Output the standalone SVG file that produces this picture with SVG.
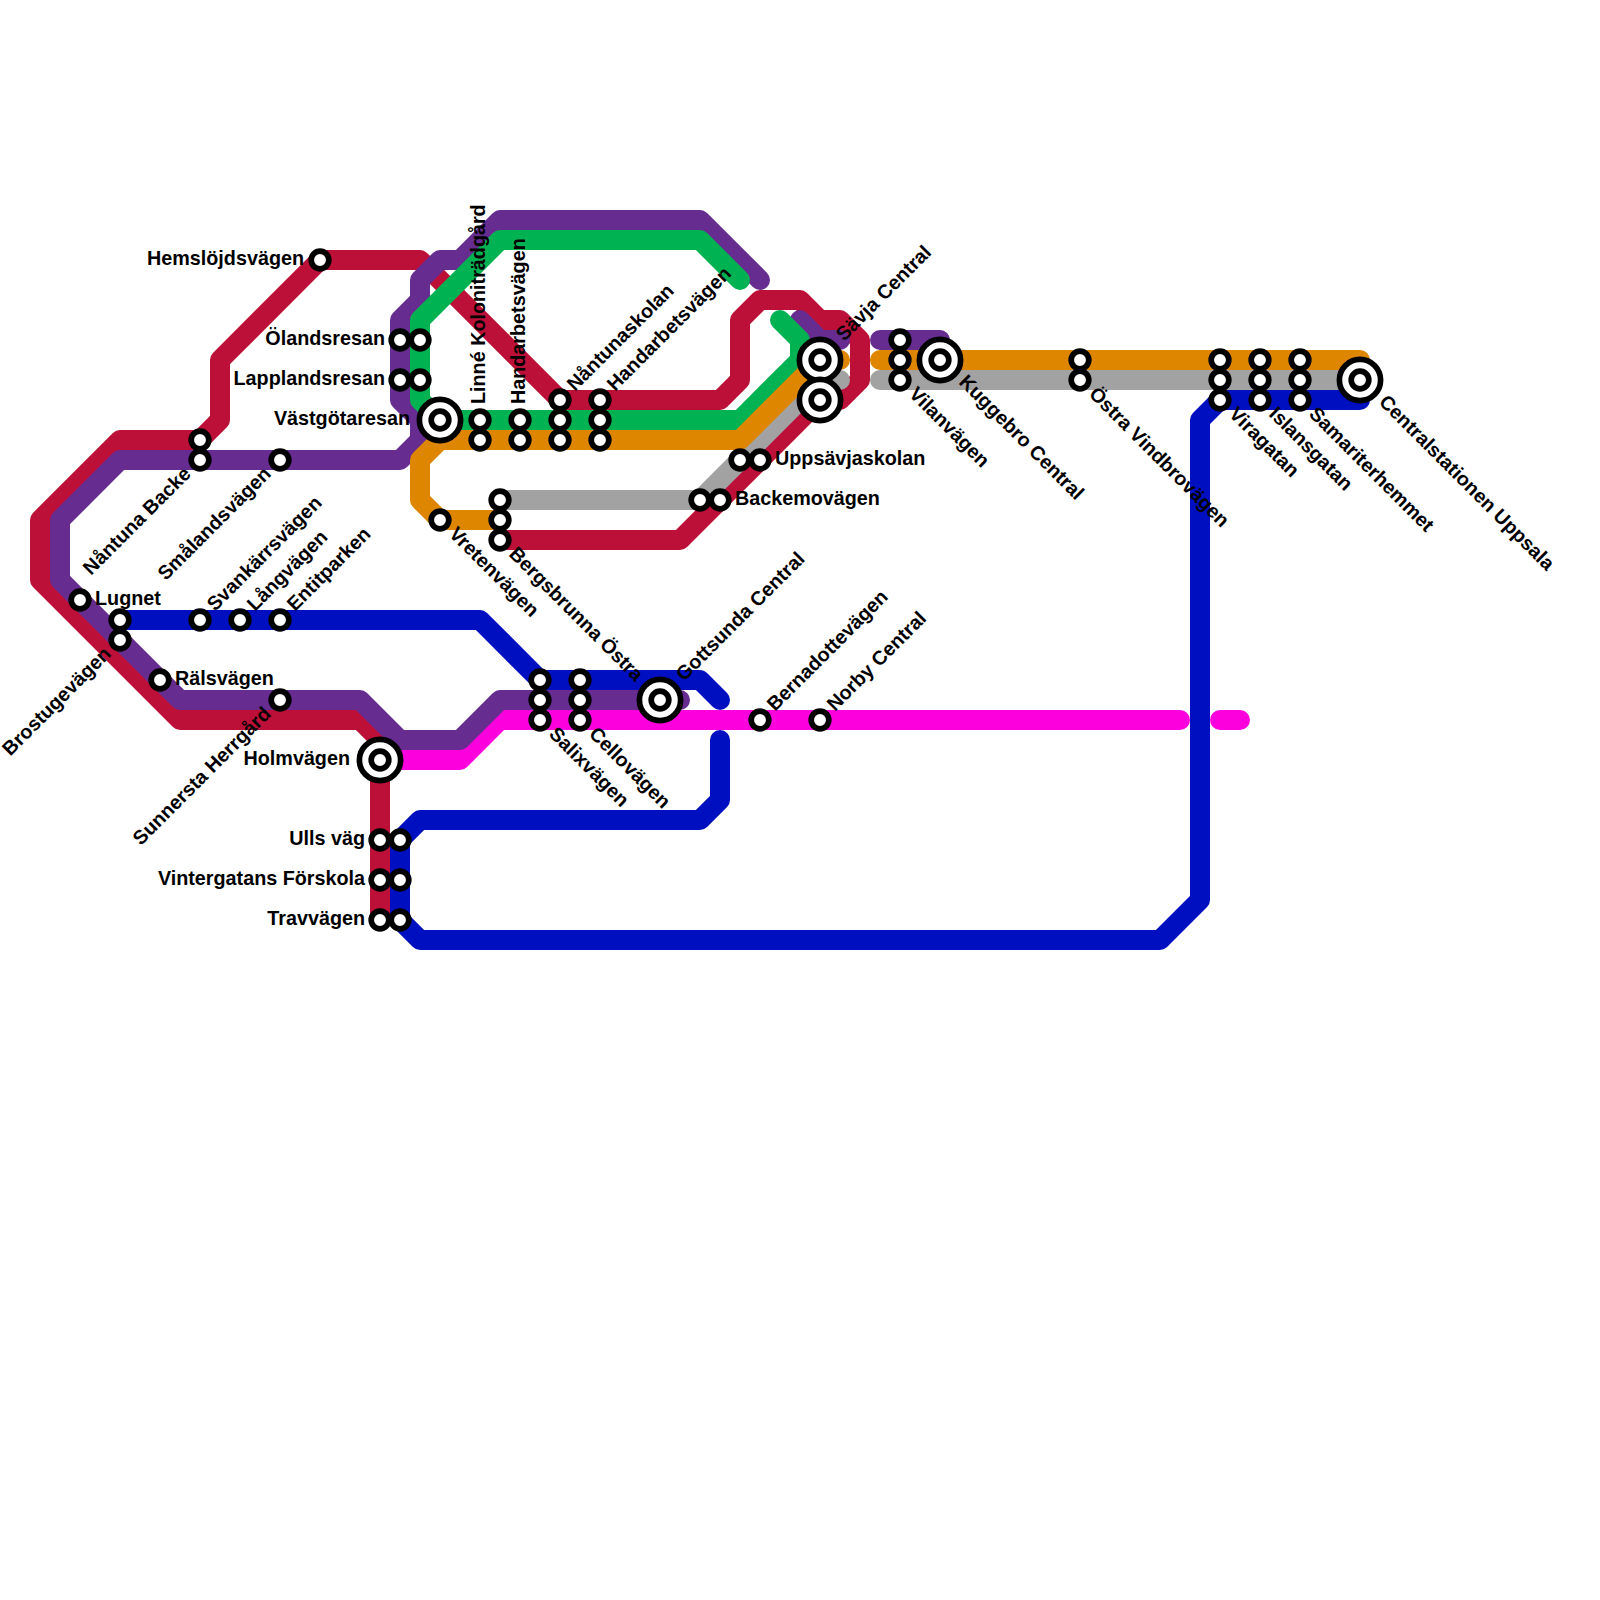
<svg xmlns="http://www.w3.org/2000/svg" width="1600" height="1600" viewBox="0 0 1600 1600">
<style>
.l{fill:none;stroke-width:20;stroke-linecap:round;stroke-linejoin:round}
.red{stroke:#bd1038}.pur{stroke:#662c90}.grn{stroke:#00b251}.org{stroke:#df8600}.gry{stroke:#a2a2a2}.blu{stroke:#0010c1}.mag{stroke:#fc00dd}
.s{fill:#fff;stroke:#000;stroke-width:5.7}
.t{font-family:"Liberation Sans",Arial,sans-serif;font-weight:bold;font-size:19.75px;fill:#000}
.e{text-anchor:end}
</style>
<rect width="1600" height="1600" fill="#fff"/>
<g id="connectors">
<path class="l red" d="M320 260H420L560 400H720L740 380V320L760 300H800L820 320H840L860 340V380L840 400H820L680 540H500"/>
<path class="l red" d="M320 260L220 360V420L200 440H120L40 520V580L180 720H360L380 740V920"/>
<path class="l gry" d="M500 500H700L820 380H840M880 380H1360"/>
<path class="l mag" d="M380 760H460L500 720H1180M1220 720H1240"/>
<path class="l pur" d="M760 280L700 220H500L460 260H440L420 280V300L400 320V400L420 420V440L400 460H120L60 520V580L180 700H360L400 740H460L500 700H680"/>
<path class="l pur" d="M800 320L820 340H840M880 340H940"/>
<path class="l grn" d="M740 280L700 240H500L420 320V400L440 420H740L800 360V340L780 320"/>
<path class="l org" d="M840 360H820L740 440H440L420 460V500L440 520H500M880 360H1360"/>
<path class="l blu" d="M120 620H480L540 680H700L720 700M720 740V800L700 820H420L400 840V920L420 940H1160L1200 900V420L1220 400H1360"/>
</g>
<g id="n-hemslojdsvagen"><circle class="s" cx="320" cy="260" r="8.8"/><text class="t e" x="304" y="265">Hemslöjdsvägen</text></g>
<g id="n-nantuna-backe"><circle class="s" cx="200" cy="440" r="8.8"/><circle class="s" cx="200" cy="460" r="8.8"/><text class="t e" transform="translate(192 475) rotate(-45)">Nåntuna Backe</text></g>
<g id="n-smalandsvagen"><circle class="s" cx="280" cy="460" r="8.8"/><text class="t e" transform="translate(272 475) rotate(-45)">Smålandsvägen</text></g>
<g id="n-olandsresan"><circle class="s" cx="400" cy="340" r="8.8"/><circle class="s" cx="420" cy="340" r="8.8"/><text class="t e" x="385" y="345">Ölandsresan</text></g>
<g id="n-lapplandsresan"><circle class="s" cx="400" cy="380" r="8.8"/><circle class="s" cx="420" cy="380" r="8.8"/><text class="t e" x="385" y="385">Lapplandsresan</text></g>
<g id="n-vastgotaresan"><circle class="s" cx="440" cy="420" r="20.6"/><circle class="s" cx="440" cy="420" r="8.8"/><text class="t e" x="410" y="425">Västgötaresan</text></g>
<g id="n-vretenvagen"><circle class="s" cx="440" cy="520" r="8.8"/><text class="t" transform="translate(448 535) rotate(45)">Vretenvägen</text></g>
<g id="n-linne"><circle class="s" cx="480" cy="420" r="8.8"/><circle class="s" cx="480" cy="440" r="8.8"/><text class="t" transform="translate(485 404) rotate(-90)">Linné Koloniträdgård</text></g>
<g id="n-handarbetsvagen-1"><circle class="s" cx="520" cy="420" r="8.8"/><circle class="s" cx="520" cy="440" r="8.8"/><text class="t" transform="translate(525 404) rotate(-90)">Handarbetsvägen</text></g>
<g id="n-nantunaskolan"><circle class="s" cx="560" cy="400" r="8.8"/><circle class="s" cx="560" cy="420" r="8.8"/><circle class="s" cx="560" cy="440" r="8.8"/><text class="t" transform="translate(575 392) rotate(-45)">Nåntunaskolan</text></g>
<g id="n-handarbetsvagen-2"><circle class="s" cx="600" cy="400" r="8.8"/><circle class="s" cx="600" cy="420" r="8.8"/><circle class="s" cx="600" cy="440" r="8.8"/><text class="t" transform="translate(615 392) rotate(-45)">Handarbetsvägen</text></g>
<g id="n-bergsbrunna"><circle class="s" cx="500" cy="500" r="8.8"/><circle class="s" cx="500" cy="520" r="8.8"/><circle class="s" cx="500" cy="540" r="8.8"/><text class="t" transform="translate(508 555) rotate(45)">Bergsbrunna Östra</text></g>
<g id="n-backemovagen"><circle class="s" cx="700" cy="500" r="8.8"/><circle class="s" cx="720" cy="500" r="8.8"/><text class="t" x="735" y="505">Backemovägen</text></g>
<g id="n-uppsavjaskolan"><circle class="s" cx="740" cy="460" r="8.8"/><circle class="s" cx="760" cy="460" r="8.8"/><text class="t" x="775" y="465">Uppsävjaskolan</text></g>
<g id="n-savja"><circle class="s" cx="820" cy="360" r="20.6"/><circle class="s" cx="820" cy="360" r="8.8"/><circle class="s" cx="820" cy="400" r="20.6"/><circle class="s" cx="820" cy="400" r="8.8"/><text class="t" transform="translate(844 342) rotate(-45)">Sävja Central</text></g>
<g id="n-vilanvagen"><circle class="s" cx="900" cy="340" r="8.8"/><circle class="s" cx="900" cy="360" r="8.8"/><circle class="s" cx="900" cy="380" r="8.8"/><text class="t" transform="translate(908 395) rotate(45)">Vilanvägen</text></g>
<g id="n-kuggebro"><circle class="s" cx="940" cy="360" r="20.6"/><circle class="s" cx="940" cy="360" r="8.8"/><text class="t" transform="translate(958 383) rotate(45)">Kuggebro Central</text></g>
<g id="n-ostra-vindbrovagen"><circle class="s" cx="1080" cy="360" r="8.8"/><circle class="s" cx="1080" cy="380" r="8.8"/><text class="t" transform="translate(1088 395) rotate(45)">Östra Vindbrovägen</text></g>
<g id="n-viragatan"><circle class="s" cx="1220" cy="360" r="8.8"/><circle class="s" cx="1220" cy="380" r="8.8"/><circle class="s" cx="1220" cy="400" r="8.8"/><text class="t" transform="translate(1228 415) rotate(45)">Viragatan</text></g>
<g id="n-islansgatan"><circle class="s" cx="1260" cy="360" r="8.8"/><circle class="s" cx="1260" cy="380" r="8.8"/><circle class="s" cx="1260" cy="400" r="8.8"/><text class="t" transform="translate(1268 415) rotate(45)">Islansgatan</text></g>
<g id="n-samariterhemmet"><circle class="s" cx="1300" cy="360" r="8.8"/><circle class="s" cx="1300" cy="380" r="8.8"/><circle class="s" cx="1300" cy="400" r="8.8"/><text class="t" transform="translate(1308 415) rotate(45)">Samariterhemmet</text></g>
<g id="n-centralstationen"><circle class="s" cx="1360" cy="380" r="20.6"/><circle class="s" cx="1360" cy="380" r="8.8"/><text class="t" transform="translate(1378 403) rotate(45)">Centralstationen Uppsala</text></g>
<g id="n-lugnet"><circle class="s" cx="80" cy="600" r="8.8"/><text class="t" x="95" y="605">Lugnet</text></g>
<g id="n-brostugevagen"><circle class="s" cx="120" cy="620" r="8.8"/><circle class="s" cx="120" cy="640" r="8.8"/><text class="t e" transform="translate(112 655) rotate(-45)">Brostugevägen</text></g>
<g id="n-ralsvagen"><circle class="s" cx="160" cy="680" r="8.8"/><text class="t" x="175" y="685">Rälsvägen</text></g>
<g id="n-svankarrsvagen"><circle class="s" cx="200" cy="620" r="8.8"/><text class="t" transform="translate(215 612) rotate(-45)">Svankärrsvägen</text></g>
<g id="n-langvagen"><circle class="s" cx="240" cy="620" r="8.8"/><text class="t" transform="translate(255 612) rotate(-45)">Långvägen</text></g>
<g id="n-entitparken"><circle class="s" cx="280" cy="620" r="8.8"/><text class="t" transform="translate(295 612) rotate(-45)">Entitparken</text></g>
<g id="n-sunnersta"><circle class="s" cx="280" cy="700" r="8.8"/><text class="t e" transform="translate(272 715) rotate(-45)">Sunnersta Herrgård</text></g>
<g id="n-holmvagen"><circle class="s" cx="380" cy="760" r="20.6"/><circle class="s" cx="380" cy="760" r="8.8"/><text class="t e" x="350" y="765">Holmvägen</text></g>
<g id="n-ulls-vag"><circle class="s" cx="380" cy="840" r="8.8"/><circle class="s" cx="400" cy="840" r="8.8"/><text class="t e" x="365" y="845">Ulls väg</text></g>
<g id="n-vintergatans"><circle class="s" cx="380" cy="880" r="8.8"/><circle class="s" cx="400" cy="880" r="8.8"/><text class="t e" x="365" y="885">Vintergatans Förskola</text></g>
<g id="n-travvagen"><circle class="s" cx="380" cy="920" r="8.8"/><circle class="s" cx="400" cy="920" r="8.8"/><text class="t e" x="365" y="925">Travvägen</text></g>
<g id="n-salixvagen"><circle class="s" cx="540" cy="680" r="8.8"/><circle class="s" cx="540" cy="700" r="8.8"/><circle class="s" cx="540" cy="720" r="8.8"/><text class="t" transform="translate(548 735) rotate(45)">Salixvägen</text></g>
<g id="n-cellovagen"><circle class="s" cx="580" cy="680" r="8.8"/><circle class="s" cx="580" cy="700" r="8.8"/><circle class="s" cx="580" cy="720" r="8.8"/><text class="t" transform="translate(588 735) rotate(45)">Cellovägen</text></g>
<g id="n-gottsunda"><circle class="s" cx="660" cy="700" r="20.6"/><circle class="s" cx="660" cy="700" r="8.8"/><text class="t" transform="translate(684 682) rotate(-45)">Gottsunda Central</text></g>
<g id="n-bernadottevagen"><circle class="s" cx="760" cy="720" r="8.8"/><text class="t" transform="translate(775 712) rotate(-45)">Bernadottevägen</text></g>
<g id="n-norby"><circle class="s" cx="820" cy="720" r="8.8"/><text class="t" transform="translate(835 712) rotate(-45)">Norby Central</text></g>
</svg>
